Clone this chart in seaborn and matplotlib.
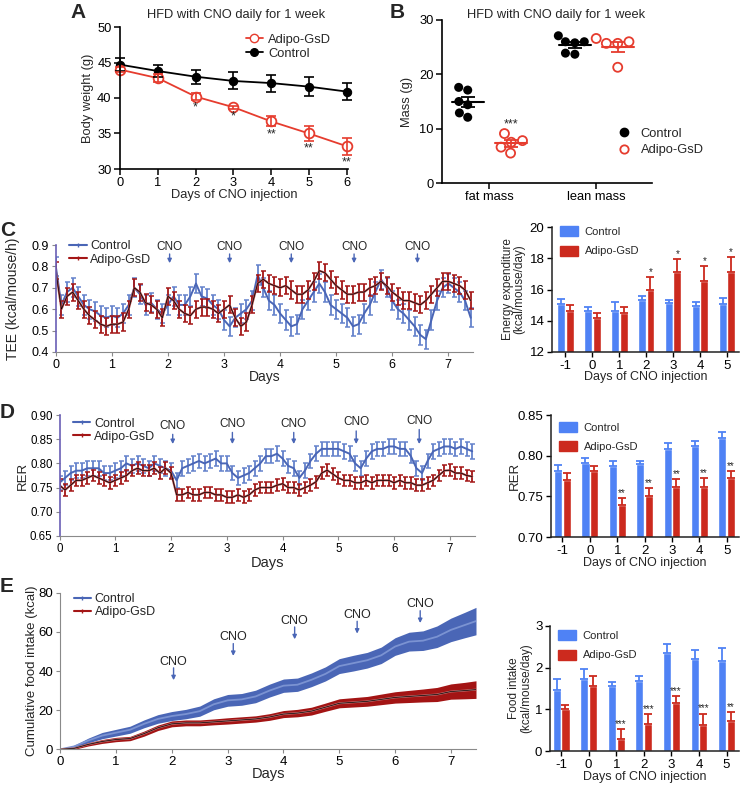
import numpy as np
import pandas as pd
import matplotlib
matplotlib.use("Agg")
import matplotlib.pyplot as plt
from matplotlib.lines import Line2D
from matplotlib.patches import Patch
import seaborn as sns

sns.set_style("ticks")
plt.rcParams['font.family'] = ['Liberation Sans', 'DejaVu Sans']

# ---------------- data ----------------
# Panel A: body weight
days_a = [0, 1, 2, 3, 4, 5, 6]
bw_ctrl = [44.7, 43.8, 43.0, 42.4, 42.1, 41.6, 40.9]
bw_ctrl_sem = [0.9, 0.9, 1.0, 1.2, 1.2, 1.3, 1.2]
bw_gsd = [44.0, 42.8, 40.2, 38.7, 36.7, 35.0, 33.2]
bw_gsd_sem = [0.4, 0.6, 0.5, 0.2, 0.7, 1.0, 1.2]
bw_stars = ['', '', '*', '*', '**', '**', '**']

# Panel B: body composition
fat_ctrl = [17.1, 17.6, 15.0, 14.4, 12.1, 12.9]
fat_gsd = [7.8, 7.5, 9.1, 6.6, 5.5]
lean_ctrl = [27.1, 26.0, 25.8, 26.0, 23.7, 23.9]
lean_gsd = [26.6, 25.7, 25.7, 26.0, 21.3]

# Panel C: TEE time course (every 0.1 day)
t_cd = np.round(np.arange(0, 7.45, 0.1), 2)
tee_ctrl = [0.80, 0.62, 0.68, 0.70, 0.66, 0.62, 0.60, 0.59, 0.57, 0.56,
            0.57, 0.56, 0.58, 0.62, 0.70, 0.67, 0.62, 0.63, 0.60, 0.58,
            0.62, 0.66, 0.62, 0.62, 0.66, 0.72, 0.66, 0.65, 0.62, 0.60,
            0.55, 0.52, 0.56, 0.58, 0.60, 0.64, 0.76, 0.70, 0.64, 0.62,
            0.58, 0.55, 0.52, 0.53, 0.60, 0.64, 0.68, 0.72, 0.68, 0.62,
            0.60, 0.58, 0.56, 0.52, 0.53, 0.58, 0.62, 0.68, 0.74, 0.70,
            0.64, 0.60, 0.58, 0.55, 0.52, 0.48, 0.46, 0.55, 0.64, 0.70,
            0.72, 0.70, 0.68, 0.64, 0.56]
tee_gsd = [0.78, 0.60, 0.66, 0.68, 0.64, 0.60, 0.57, 0.55, 0.53, 0.52,
           0.53, 0.53, 0.54, 0.60, 0.70, 0.68, 0.63, 0.62, 0.60, 0.56,
           0.66, 0.64, 0.60, 0.58, 0.57, 0.60, 0.61, 0.61, 0.60, 0.58,
           0.60, 0.62, 0.56, 0.52, 0.54, 0.62, 0.72, 0.74, 0.72, 0.71,
           0.70, 0.71, 0.69, 0.67, 0.67, 0.69, 0.73, 0.78, 0.77, 0.74,
           0.71, 0.69, 0.67, 0.67, 0.68, 0.68, 0.70, 0.71, 0.73, 0.71,
           0.68, 0.66, 0.64, 0.64, 0.63, 0.62, 0.64, 0.67, 0.70, 0.73,
           0.73, 0.72, 0.71, 0.69, 0.64]
tee_ctrl_sem = 0.045
tee_gsd_sem = 0.04

# Panel D: RER time course (every 0.1 day)
rer_ctrl = [0.760, 0.770, 0.780, 0.785, 0.785, 0.790, 0.790, 0.790, 0.780, 0.780,
            0.785, 0.790, 0.800, 0.795, 0.800, 0.795, 0.790, 0.800, 0.795, 0.790,
            0.785, 0.765, 0.790, 0.795, 0.800, 0.805, 0.800, 0.805, 0.810, 0.800,
            0.800, 0.780, 0.770, 0.775, 0.780, 0.790, 0.800, 0.815, 0.815, 0.820,
            0.810, 0.795, 0.790, 0.770, 0.785, 0.805, 0.820, 0.830, 0.830, 0.830,
            0.830, 0.825, 0.820, 0.800, 0.790, 0.810, 0.825, 0.830, 0.830, 0.835,
            0.835, 0.830, 0.830, 0.815, 0.790, 0.780, 0.805, 0.825, 0.830, 0.835,
            0.835, 0.830, 0.835, 0.830, 0.825]
rer_gsd = [0.755, 0.745, 0.755, 0.765, 0.765, 0.770, 0.775, 0.770, 0.765, 0.760,
           0.765, 0.770, 0.775, 0.785, 0.790, 0.785, 0.785, 0.790, 0.780, 0.790,
           0.780, 0.735, 0.735, 0.740, 0.735, 0.735, 0.740, 0.740, 0.735, 0.735,
           0.730, 0.730, 0.735, 0.730, 0.735, 0.745, 0.750, 0.750, 0.750, 0.755,
           0.758, 0.750, 0.750, 0.745, 0.750, 0.755, 0.762, 0.780, 0.786, 0.778,
           0.770, 0.765, 0.765, 0.760, 0.760, 0.765, 0.760, 0.765, 0.765, 0.765,
           0.760, 0.765, 0.760, 0.760, 0.755, 0.755, 0.760, 0.765, 0.775, 0.785,
           0.786, 0.780, 0.780, 0.775, 0.773]
rer_ctrl_sem = 0.015
rer_gsd_sem = 0.012

# Panel E: cumulative food intake
t_e = [0, 0.25, 0.5, 0.75, 1.0, 1.25, 1.5, 1.75, 2.0, 2.25, 2.5, 2.75, 3.0, 3.25,
       3.5, 3.75, 4.0, 4.25, 4.5, 4.75, 5.0, 5.25, 5.5, 5.75, 6.0, 6.25, 6.5,
       6.75, 7.0, 7.25, 7.45]
food_ctrl = [0, 1.5, 4.5, 7, 8.5, 10, 13, 15.5, 17, 18, 19.5, 23, 25, 25.5, 27,
             30, 32.5, 33, 35.5, 38.5, 42.5, 44, 45.5, 48, 52.5, 55, 55.5, 57.5,
             61, 63.5, 65.5]
food_ctrl_sem = [0, 0.6, 1.2, 1.6, 1.7, 1.8, 2, 2.2, 2.3, 2.4, 2.6, 2.8, 3, 3,
                 3.2, 3.3, 3.4, 3.4, 3.5, 3.6, 3.8, 4, 4, 4.2, 4.5, 4.8, 5, 5.5,
                 6, 6.5, 7]
food_gsd = [0, 0.5, 2.5, 4, 5, 5.5, 8, 11, 13, 13.5, 13.5, 14, 14.5, 15, 15.5,
            16.5, 18, 18.5, 19.5, 21.5, 23.5, 24, 24.5, 25.5, 26.5, 27, 27.5, 28,
            29.5, 30, 30.5]
food_gsd_sem = [0, 0.5, 0.8, 1, 1.1, 1.1, 1.3, 1.4, 1.5, 1.5, 1.5, 1.5, 1.6, 1.6,
                1.6, 1.7, 1.8, 1.9, 2, 2.1, 2.3, 2.4, 2.5, 2.7, 2.9, 3.1, 3.3,
                3.6, 3.9, 4.2, 4.5]

# CNO injection times
cno_days = [2.03, 3.1, 4.2, 5.32, 6.45]
cno_text_d = [0.878, 0.882, 0.882, 0.885, 0.888]
cno_text_e = [44.8, 57.2, 65.7, 68.6, 74.0]

# Bar charts
bar_days = ['-1', '0', '1', '2', '3', '4', '5']
ee_ctrl = [15.1, 14.6, 14.6, 15.3, 15.15, 14.95, 15.07]
ee_ctrl_sem = [0.3, 0.3, 0.6, 0.3, 0.15, 0.25, 0.4]
ee_gsd = [14.6, 14.15, 14.5, 16.0, 17.15, 16.55, 17.1]
ee_gsd_sem = [0.4, 0.35, 0.35, 0.8, 0.8, 0.95, 1.0]
ee_stars = ['', '', '', '*', '*', '*', '*']

rerb_ctrl = [0.7806, 0.791, 0.787, 0.790, 0.8085, 0.812, 0.822]
rerb_ctrl_sem = [0.008, 0.006, 0.007, 0.003, 0.0065, 0.006, 0.0075]
rerb_gsd = [0.770, 0.7806, 0.739, 0.750, 0.762, 0.762, 0.772]
rerb_gsd_sem = [0.009, 0.0065, 0.009, 0.010, 0.009, 0.011, 0.009]
rerb_stars = ['', '', '**', '**', '**', '**', '**']

fi_ctrl = [1.46, 1.72, 1.56, 1.68, 2.36, 2.20, 2.17]
fi_ctrl_sem = [0.26, 0.25, 0.10, 0.13, 0.22, 0.23, 0.31]
fi_gsd = [1.00, 1.56, 0.30, 0.66, 1.16, 0.63, 0.73]
fi_gsd_sem = [0.10, 0.24, 0.22, 0.22, 0.16, 0.27, 0.21]
fi_stars = ['', '', '***', '***', '***', '***', '**']

# ---------------- style ----------------
RED_A = '#e63c2e'
BLUE_TS = '#4a66b6'
BLUE_TS_E = '#6482cc'
RED_TS = '#b04a4a'
RED_TS_E = '#a41616'
BAR_BLUE = '#4f82f5'
BAR_RED = '#cc2a1e'

W, H = 740, 785
fig = plt.figure(figsize=(W / 100, H / 100), dpi=100)


def rect(l, t, r, b):
    return [l / W, 1 - b / H, (r - l) / W, (b - t) / H]


def labels(ax, xl, yl, xc, yc, fsx, fsy):
    ax.set_xlabel(xl, fontsize=fsx, va='center')
    ax.xaxis.set_label_coords(0.5, xc)
    ax.set_ylabel(yl, fontsize=fsy, va='center', ha='center', linespacing=1.0)
    ax.yaxis.set_label_coords(yc, 0.5)


def style_black(ax, fs=9.3):
    sns.despine(ax=ax)
    for s in ['left', 'bottom']:
        ax.spines[s].set_linewidth(1.2)
        ax.spines[s].set_color('black')
    ax.tick_params(direction='out', length=4, width=1.1, labelsize=fs,
                   colors='black', pad=2)


# ---------------- Panel A ----------------
axA = fig.add_axes(rect(120, 27, 348, 169))
sns.lineplot(x=days_a, y=bw_ctrl, color='black', marker='o', markersize=6,
             markeredgecolor='black', lw=1.3, ax=axA)
sns.lineplot(x=days_a, y=bw_gsd, color=RED_A, marker='o', markersize=7,
             markerfacecolor='white', markeredgecolor=RED_A,
             markeredgewidth=1.3, lw=1.3, ax=axA)
axA.errorbar(days_a, bw_ctrl, yerr=bw_ctrl_sem, fmt='none', ecolor='black',
             capsize=3.5, elinewidth=1.2, capthick=1.2, clip_on=False)
axA.errorbar(days_a, bw_gsd, yerr=bw_gsd_sem, fmt='none', ecolor=RED_A,
             capsize=3.5, elinewidth=1.2, capthick=1.2, clip_on=False)
for ln in axA.lines:
    ln.set_clip_on(False)
for d, v, s, st in zip(days_a, bw_gsd, bw_gsd_sem, bw_stars):
    if st:
        axA.text(d, v - s - 0.25, st, ha='center', va='top', fontsize=9)
axA.set_xlim(0, 6.03)
axA.set_ylim(30, 50)
axA.set_xticks(days_a)
axA.set_yticks([30, 35, 40, 45, 50])
style_black(axA)
labels(axA, 'Days of CNO injection', 'Body weight (g)', -0.185, -0.14, 9.3, 9.3)
axA.legend(handles=[Line2D([], [], color=RED_A, marker='o', mfc='white', mec=RED_A, ms=6, lw=1.3),
                    Line2D([], [], color='black', marker='o', ms=5.5, lw=1.3)],
           labels=['Adipo-GsD', 'Control'], loc='upper left',
           bbox_to_anchor=(0.53, 0.99), frameon=False, fontsize=9.3,
           handlelength=1.3, handletextpad=0.4, labelspacing=0.15, borderaxespad=0)
fig.text(236 / W, 1 - 15 / H, 'HFD with CNO daily for 1 week', ha='center',
         va='center', fontsize=9.3)
fig.text(78 / W, 1 - 12 / H, 'A', ha='center', va='center', fontsize=15,
         fontweight='bold')

# ---------------- Panel B ----------------
axB = fig.add_axes(rect(442, 20, 652, 183))
df_b = pd.DataFrame({
    'tissue': ['fat mass'] * (len(fat_ctrl) + len(fat_gsd)) +
              ['lean mass'] * (len(lean_ctrl) + len(lean_gsd)),
    'group': ['Control'] * len(fat_ctrl) + ['Adipo-GsD'] * len(fat_gsd) +
             ['Control'] * len(lean_ctrl) + ['Adipo-GsD'] * len(lean_gsd),
    'mass': fat_ctrl + fat_gsd + lean_ctrl + lean_gsd,
})
sns.swarmplot(data=df_b, x='tissue', y='mass', hue='group',
              order=['fat mass', 'lean mass'], hue_order=['Control', 'Adipo-GsD'],
              palette={'Control': 'black', 'Adipo-GsD': RED_A}, dodge=True,
              size=6.5, legend=False, ax=axB)
for c in axB.collections:
    fc = c.get_facecolor()
    if len(fc) and fc[0][0] > 0.5:
        c.set_facecolor('none')
        c.set_edgecolor(RED_A)
        c.set_linewidth(1.3)
groups_b = [(0, -0.2, fat_ctrl, 'black'), (0, 0.2, fat_gsd, RED_A),
            (1, -0.2, lean_ctrl, 'black'), (1, 0.2, lean_gsd, RED_A)]
for i, off, vals, col in groups_b:
    m = np.mean(vals)
    se = np.std(vals, ddof=1) / np.sqrt(len(vals))
    x = i + off
    axB.plot([x - 0.15, x + 0.15], [m, m], color=col, lw=1.5)
    axB.errorbar([x], [m], yerr=[se], fmt='none', ecolor=col, capsize=5,
                 elinewidth=1.3, capthick=1.3)
axB.text(0.2, np.mean(fat_gsd) + 3.5, '***', ha='center', va='center', fontsize=9)
axB.set_xlim(-0.44, 1.52)
axB.set_ylim(0, 30)
axB.set_yticks([0, 10, 20, 30])
style_black(axB)
labels(axB, '', 'Mass (g)', -0.2, -0.165, 9.3, 9.3)
axB.tick_params(axis='x', labelsize=9.3)
axB.legend(handles=[Line2D([], [], color='black', marker='o', ls='none', ms=6),
                    Line2D([], [], color=RED_A, marker='o', ls='none', ms=6,
                           mfc='none', mew=1.3)],
           labels=['Control', 'Adipo-GsD'], loc='upper left',
           bbox_to_anchor=(0.78, 0.37), frameon=False, fontsize=9.3,
           handletextpad=0.3, labelspacing=0.35, borderaxespad=0)
fig.text(556 / W, 1 - 15 / H, 'HFD with CNO daily for 1 week', ha='center',
         va='center', fontsize=9.3)
fig.text(397 / W, 1 - 12 / H, 'B', ha='center', va='center', fontsize=15,
         fontweight='bold')


# ---------------- time-series helper ----------------
def style_ts(ax, left_color, fs):
    sns.despine(ax=ax)
    ax.spines['bottom'].set_color('#8a8a8a')
    ax.spines['left'].set_color(left_color)
    ax.spines['left'].set_linewidth(1.2)
    ax.tick_params(direction='out', length=3, width=0.8, labelsize=fs,
                   color='#8a8a8a', labelcolor='black', pad=2)


def ts_legend(ax, y):
    ax.legend(handles=[Line2D([], [], color=BLUE_TS, marker='|', ms=3.5, lw=1.5),
                       Line2D([], [], color=RED_TS_E, marker='|', ms=3.5, lw=1.5)],
              labels=['Control', 'Adipo-GsD'], loc='upper left',
              bbox_to_anchor=(0.02, y), frameon=False, fontsize=9,
              handlelength=1.4, handletextpad=0.3, labelspacing=0.1,
              borderaxespad=0)


def ts_series(ax, t, ctrl, ctrl_sem, gsd, gsd_sem):
    ax.errorbar(t, ctrl, yerr=ctrl_sem, fmt='none', ecolor=BLUE_TS_E,
                elinewidth=1.3, capsize=1.8, capthick=1.1)
    sns.lineplot(x=t, y=ctrl, color=BLUE_TS, lw=1.4, ax=ax)
    ax.errorbar(t, gsd, yerr=gsd_sem, fmt='none', ecolor=RED_TS_E,
                elinewidth=1.3, capsize=1.8, capthick=1.1)
    sns.lineplot(x=t, y=gsd, color=RED_TS, lw=1.5, ax=ax)
    sns.lineplot(x=t, y=gsd, color='black', lw=0.5, ax=ax)


# ---------------- Panel C ----------------
axC = fig.add_axes(rect(55.8, 245, 473.5, 352))
ts_series(axC, t_cd, tee_ctrl, tee_ctrl_sem, tee_gsd, tee_gsd_sem)
for d in cno_days:
    axC.annotate('', xy=(d, 0.815), xytext=(d, 0.858),
                 arrowprops=dict(arrowstyle='-|>', color=BLUE_TS, lw=1,
                                 mutation_scale=6, shrinkA=0, shrinkB=0))
    axC.text(d, 0.892, 'CNO', ha='center', va='center', fontsize=8.5)
axC.set_xlim(0, 7.45)
axC.set_ylim(0.4, 0.9)
axC.set_xticks(range(8))
axC.set_yticks([0.4, 0.5, 0.6, 0.7, 0.8, 0.9])
style_ts(axC, '#6a5fb5', 9)
labels(axC, 'Days', 'TEE (kcal/mouse/h)', -0.235, -0.102, 10, 10)
ts_legend(axC, 1.09)
fig.text(8 / W, 1 - 230 / H, 'C', ha='center', va='center', fontsize=15,
         fontweight='bold')

# ---------------- Panel D ----------------
axD = fig.add_axes(rect(59.5, 415, 475, 536))
ts_series(axD, t_cd, rer_ctrl, rer_ctrl_sem, rer_gsd, rer_gsd_sem)
for d, ty in zip(cno_days, cno_text_d):
    axD.annotate('', xy=(d, 0.840), xytext=(d, ty - 0.018),
                 arrowprops=dict(arrowstyle='-|>', color=BLUE_TS, lw=1,
                                 mutation_scale=6, shrinkA=0, shrinkB=0))
    axD.text(d, ty, 'CNO', ha='center', va='center', fontsize=8.5)
axD.set_xlim(0, 7.45)
axD.set_ylim(0.65, 0.90)
axD.set_xticks(range(8))
axD.set_yticks([0.65, 0.70, 0.75, 0.80, 0.85, 0.90])
axD.set_yticklabels(['%.2f' % v for v in [0.65, 0.70, 0.75, 0.80, 0.85, 0.90]])
style_ts(axD, '#6a5fb5', 8.3)
labels(axD, 'Days', 'RER', -0.225, -0.088, 10.5, 9.5)
ts_legend(axD, 1.02)
fig.text(7 / W, 1 - 413 / H, 'D', ha='center', va='center', fontsize=15,
         fontweight='bold')

# ---------------- Panel E ----------------
axE = fig.add_axes(rect(60.3, 592.7, 476, 749.3))
fc = np.array(food_ctrl)
fcs = np.array(food_ctrl_sem)
fg = np.array(food_gsd)
fgs = np.array(food_gsd_sem)
axE.fill_between(t_e, fc - fcs, fc + fcs, color=BLUE_TS, lw=0)
sns.lineplot(x=t_e, y=food_ctrl, color='#7b93d2', lw=1.3, ax=axE)
axE.fill_between(t_e, fg - fgs, fg + fgs, color='#a31414', lw=0)
sns.lineplot(x=t_e, y=food_gsd, color='#c07474', lw=1.4, ax=axE)
sns.lineplot(x=t_e, y=food_gsd, color='black', lw=0.5, ax=axE)
for d, ty in zip(cno_days, cno_text_e):
    axE.annotate('', xy=(d, ty - 9.5), xytext=(d, ty - 3.2),
                 arrowprops=dict(arrowstyle='-|>', color=BLUE_TS, lw=1,
                                 mutation_scale=6, shrinkA=0, shrinkB=0))
    axE.text(d, ty, 'CNO', ha='center', va='center', fontsize=9)
axE.set_xlim(0, 7.45)
axE.set_ylim(0, 80)
axE.set_xticks(range(8))
axE.set_yticks([0, 20, 40, 60, 80])
style_ts(axE, '#8a8a8a', 9.5)
axE.spines['left'].set_linewidth(0.8)
labels(axE, 'Days', 'Cumulative food intake (kcal)', -0.16, -0.068, 10.5, 9.5)
ts_legend(axE, 1.03)
fig.text(7 / W, 1 - 586 / H, 'E', ha='center', va='center', fontsize=15,
         fontweight='bold')


# ---------------- bar chart helper ----------------
def bar_panel(ax, ctrl, ctrl_sem, gsd, gsd_sem, stars, star_pad):
    df = pd.DataFrame({'day': bar_days * 2,
                       'group': ['Control'] * 7 + ['Adipo-GsD'] * 7,
                       'val': ctrl + gsd})
    sns.barplot(data=df, x='day', y='val', hue='group', order=bar_days,
                hue_order=['Control', 'Adipo-GsD'],
                palette={'Control': BAR_BLUE, 'Adipo-GsD': BAR_RED},
                width=0.64, gap=0.08, errorbar=None, legend=False, ax=ax,
                saturation=1)
    for cont, vals, sems, col in zip(ax.containers, [ctrl, gsd],
                                     [ctrl_sem, gsd_sem], [BAR_BLUE, BAR_RED]):
        xs = [b.get_x() + b.get_width() / 2 for b in cont]
        ax.errorbar(xs, vals, yerr=[np.zeros(len(vals)), sems], fmt='none',
                    ecolor=col, capsize=2.6, elinewidth=1.3, capthick=1.3)
        if col == BAR_RED:
            for x, v, s, st in zip(xs, vals, sems, stars):
                if st:
                    ax.text(x, v + s + star_pad, st, ha='center', va='bottom',
                            fontsize=7)
    sns.despine(ax=ax)
    for s in ['left', 'bottom']:
        ax.spines[s].set_linewidth(1.1)
        ax.spines[s].set_color('#222222')
    ax.tick_params(direction='out', length=3.5, width=1, labelsize=9.5,
                   colors='black', pad=2)


def bar_legend(ax, y):
    ax.legend(handles=[Patch(color=BAR_BLUE), Patch(color=BAR_RED)],
              labels=['Control', 'Adipo-GsD'], loc='upper left',
              bbox_to_anchor=(0.02, y), frameon=False, fontsize=8,
              handlelength=1.6, handleheight=1.0, handletextpad=0.6,
              labelspacing=0.75, borderaxespad=0)


# Panel C right
axCr = fig.add_axes(rect(552, 227, 739, 352))
bar_panel(axCr, ee_ctrl, ee_ctrl_sem, ee_gsd, ee_gsd_sem, ee_stars, 0.0)
axCr.set_xlim(-0.5, 6.45)
axCr.set_ylim(12, 20)
axCr.set_yticks([12, 14, 16, 18, 20])
labels(axCr, 'Days of CNO injection', 'Energy expenditure\n(kcal/mouse/day)',
       -0.2, -0.205, 9, 8.5)
bar_legend(axCr, 1.04)

# Panel D right
axDr = fig.add_axes(rect(551, 415, 739, 537))
bar_panel(axDr, rerb_ctrl, rerb_ctrl_sem, rerb_gsd, rerb_gsd_sem, rerb_stars, 0.0)
axDr.set_xlim(-0.42, 6.45)
axDr.set_ylim(0.70, 0.85)
axDr.set_yticks([0.70, 0.75, 0.80, 0.85])
axDr.set_yticklabels(['%.2f' % v for v in [0.70, 0.75, 0.80, 0.85]])
labels(axDr, 'Days of CNO injection', 'RER', -0.213, -0.19, 9, 9.5)
bar_legend(axDr, 0.98)

# Panel E right
axEr = fig.add_axes(rect(550, 626, 739, 751))
bar_panel(axEr, fi_ctrl, fi_ctrl_sem, fi_gsd, fi_gsd_sem, fi_stars, 0.0)
axEr.set_xlim(-0.4, 6.45)
axEr.set_ylim(0, 3)
axEr.set_yticks([0, 1, 2, 3])
labels(axEr, 'Days of CNO injection', 'Food intake\n(kcal/mouse/day)',
       -0.208, -0.16, 9, 8.5)
bar_legend(axEr, 1.0)

fig.savefig('out.png', dpi=100)
